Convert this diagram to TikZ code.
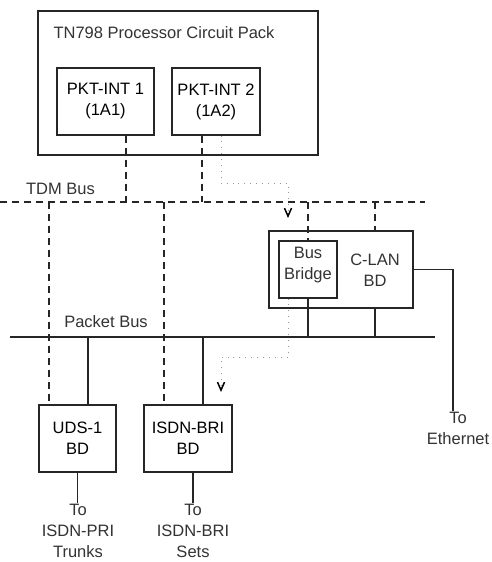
\documentclass[tikz,border=0pt]{standalone}
\usepackage{fontspec}
\setmainfont{Liberation Sans}
\usetikzlibrary{arrows.meta}
\newcommand{\bodyfont}{\fontsize{16.5}{21}\selectfont}
\tikzset{
  board/.style={
    draw=black!85,
    line width=1.1pt,
    inner sep=0pt,
    align=center,
    font=\bodyfont
  },
  caption/.style={font=\bodyfont, text=black!80, align=center, inner sep=1pt},
  tdmline/.style={line width=1.1pt, draw=black!85, dash pattern=on 7pt off 5pt},
  pktline/.style={line width=1.1pt, draw=black!85},
  flowline/.style={line width=0.9pt, draw=black!40, dash pattern=on 0.9pt off 5pt,
    -{Straight Barb[length=8pt,width=7pt,line width=1.5pt,color=black]}}
}

\begin{document}
\begin{tikzpicture}[x=1pt,y=-1pt]
\path[use as bounding box] (0,0) rectangle (491,562);
\fill[white] (0,0) rectangle (491,562);

% buses
\coordinate (tdmL) at (0,202);
\coordinate (tdmR) at (425,202);
\coordinate (pktL) at (10,337);
\coordinate (pktR) at (435,337);
\draw[tdmline] (tdmL) -- (tdmR);
\draw[pktline] (pktL) -- (pktR);
\node[caption] (tdmlabel) at (60.5,189) {TDM Bus};
\node[caption] (pktlabel) at (106,322) {Packet Bus};

% processor circuit pack
\node[board, minimum width=280, minimum height=144] (tn798) at (178,83) {};
\node[caption] (tntitle) at (164,33) {TN798 Processor Circuit Pack};
\node[board, minimum width=97, minimum height=67] (pkt1) at (105.5,101.5) {PKT-INT 1\\(1A1)};
\node[board, minimum width=88, minimum height=67] (pkt2) at (216,101.5) {PKT-INT 2\\(1A2)};

% C-LAN board
\node[board, minimum width=144, minimum height=77] (clan) at (341,269.5) {};
\node[caption] (clantext) at (375,270) {C-LAN\\BD};
\node[board, minimum width=58, minimum height=57, text=black!80] (bridge) at (308,269.5) {};
\node[caption] (bridgetext) at (308,265) {Bus\\Bridge};

% port boards
\node[board, minimum width=77, minimum height=67] (uds) at (77.5,438.5) {UDS-1\\BD};
\node[board, minimum width=88, minimum height=67] (bri) at (188,438.5) {ISDN-BRI\\BD};

\node[caption] (topri) at (78,531) {To\\ISDN-PRI\\Trunks};
\node[caption] (tobri) at (193,531) {To\\ISDN-BRI\\Sets};
\node[caption] (toeth) at (458,428) {To\\Ethernet};

% TDM bus taps
\draw[tdmline] ([xshift=20.5]pkt1.south) -- ([xshift=20.5]pkt1.south |- tdmL);
\draw[tdmline] ([xshift=-14]pkt2.south) -- ([xshift=-14]pkt2.south |- tdmL);
\draw[tdmline] ([xshift=-28.5]uds.north |- tdmL) -- ([xshift=-28.5]uds.north);
\draw[tdmline] ([xshift=-24]bri.north |- tdmL) -- ([xshift=-24]bri.north);
\draw[tdmline] (bridge.north |- tdmL) -- (bridge.north);
\draw[tdmline] ([xshift=34]clan.north |- tdmL) -- ([xshift=34]clan.north);

% packet bus taps
\draw[pktline] ([xshift=10.5]uds.north |- pktL) -- ([xshift=10.5]uds.north);
\draw[pktline] ([xshift=15]bri.north |- pktL) -- ([xshift=15]bri.north);
\draw[pktline] (bridge.south) -- (bridge.south |- pktL);
\draw[pktline] ([xshift=34]clan.south) -- ([xshift=34]clan.south |- pktL);

% outside links
\draw[pktline] (uds.south) -- (uds.south |- topri.north);
\draw[pktline] ([xshift=5]bri.south) -- ([xshift=5]bri.south |- tobri.north);
\draw[pktline] (clan.east) -| ([xshift=-5]toeth.north);

% data paths
\coordinate (bendA) at (288,183);
\coordinate (tipA) at (288,218);
\coordinate (bendB) at (221,357);
\coordinate (tipB) at (221,392);
\draw[flowline] ([xshift=5]pkt2.south) |- (bendA) -- (tipA);
\draw[flowline] ([xshift=-20]bridge.south) |- (bendB) -- (tipB);

\end{tikzpicture}
\end{document}
